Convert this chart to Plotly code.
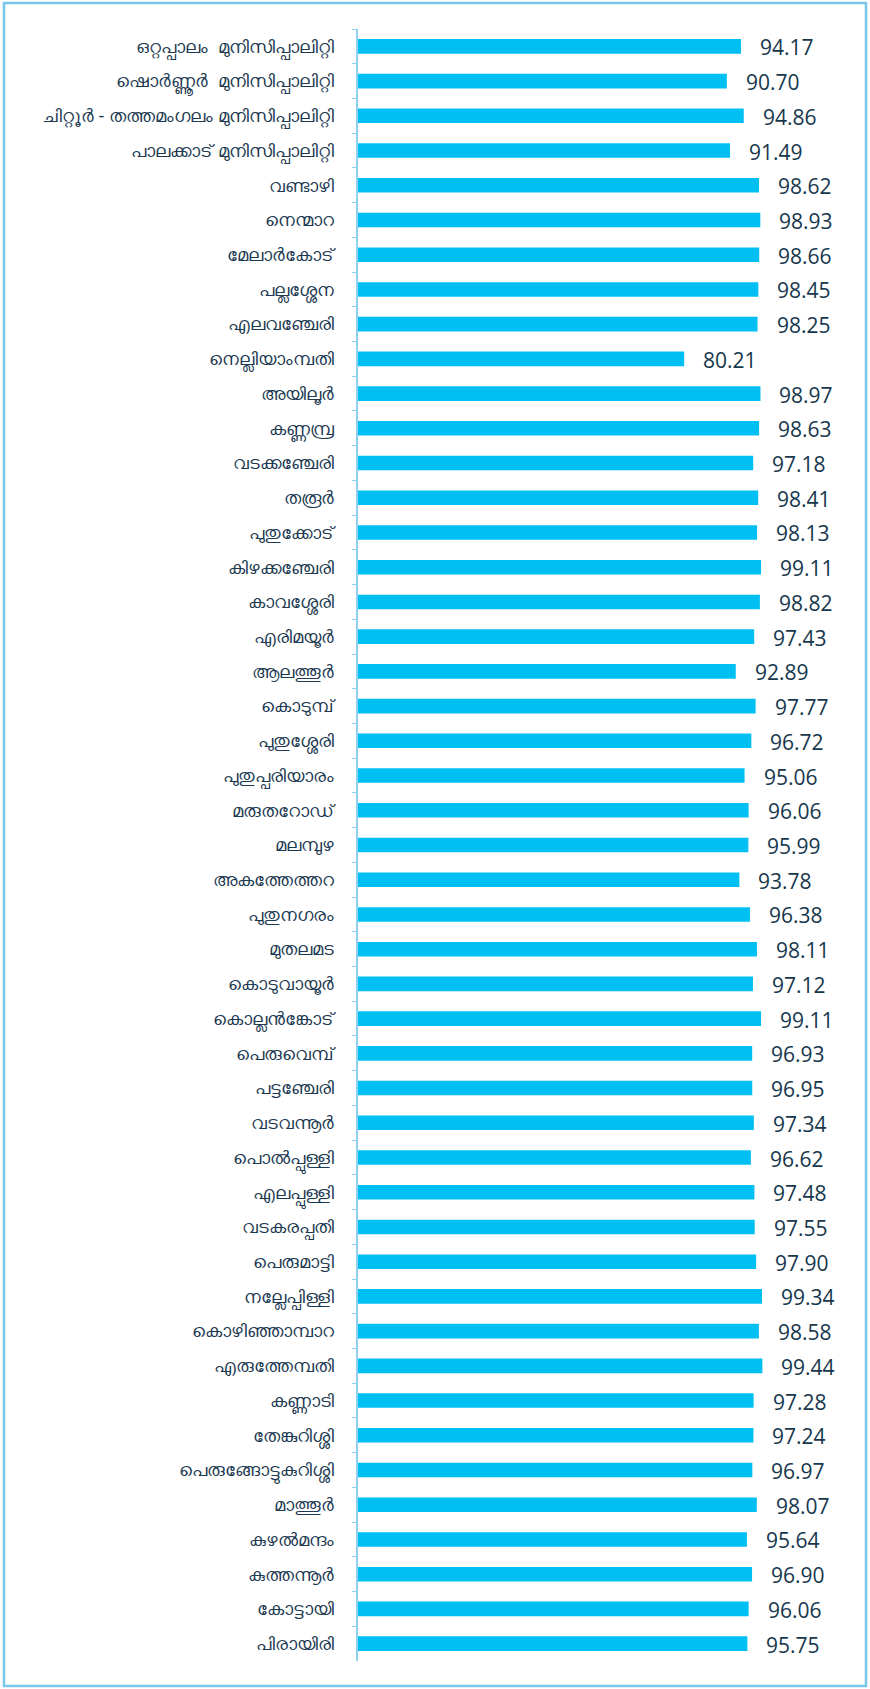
import plotly.graph_objects as go

# Panchayat / municipality names (top to bottom) and their values
names = [
    "ഒറ്റപ്പാലം  മുനിസിപ്പാലിറ്റി", "ഷൊർണ്ണൂർ  മുനിസിപ്പാലിറ്റി",
    "ചിറ്റൂർ - തത്തമംഗലം മുനിസിപ്പാലിറ്റി", "പാലക്കാട് മുനിസിപ്പാലിറ്റി",
    "വണ്ടാഴി", "നെന്മാറ", "മേലാർകോട്", "പല്ലശ്ശേന", "എലവഞ്ചേരി",
    "നെല്ലിയാംമ്പതി", "അയിലൂർ", "കണ്ണമ്പ്ര", "വടക്കഞ്ചേരി", "തരൂർ",
    "പുതുക്കോട്", "കിഴക്കഞ്ചേരി", "കാവശ്ശേരി", "എരിമയൂർ", "ആലത്തൂർ",
    "കൊടുമ്പ്", "പുതുശ്ശേരി", "പുതുപ്പരിയാരം", "മരുതറോഡ്", "മലമ്പുഴ",
    "അകത്തേത്തറ", "പുതുനഗരം", "മുതലമട", "കൊടുവായൂർ", "കൊല്ലൻങ്കോട്",
    "പെരുവെമ്പ്", "പട്ടഞ്ചേരി", "വടവന്നൂർ", "പൊൽപ്പുള്ളി", "എലപ്പുള്ളി",
    "വടകരപ്പതി", "പെരുമാട്ടി", "നല്ലേപ്പിള്ളി", "കൊഴിഞ്ഞാമ്പാറ",
    "എരുത്തേമ്പതി", "കണ്ണാടി", "തേങ്കുറിശ്ശി", "പെരുങ്ങോട്ടുകുറിശ്ശി",
    "മാത്തൂർ", "കുഴൽമന്ദം", "കുത്തന്നൂർ", "കോട്ടായി", "പിരായിരി",
]
values = [
    94.17, 90.70, 94.86, 91.49, 98.62, 98.93, 98.66, 98.45, 98.25,
    80.21, 98.97, 98.63, 97.18, 98.41, 98.13, 99.11, 98.82, 97.43, 92.89,
    97.77, 96.72, 95.06, 96.06, 95.99, 93.78, 96.38, 98.11, 97.12, 99.11,
    96.93, 96.95, 97.34, 96.62, 97.48, 97.55, 97.90, 99.34, 98.58,
    99.44, 97.28, 97.24, 96.97, 98.07, 95.64, 96.90, 96.06, 95.75,
]

W, H = 870, 1689
ml, mr, mt, mb = 358, 24, 29, 28
pw = W - ml - mr
ph = H - mt - mb

fig = go.Figure(go.Bar(
    x=values, y=names, orientation="h",
    marker=dict(color="#00BFF3", line=dict(width=0)),
    hoverinfo="x+y",
))

# value labels right of the bars
for n, v in zip(names, values):
    fig.add_annotation(x=v, y=n, text=f"{v:.2f}", showarrow=False,
                       xanchor="left", xshift=17, yshift=-1,
                       font=dict(family="Open Sans", size=21, color="#17374d"))

# light blue frame round the whole picture
fig.add_shape(type="rect", xref="paper", yref="paper",
              x0=(4 - ml) / pw, x1=(W - 4 - ml) / pw,
              y0=(mt + ph - (H - 3)) / ph, y1=(mt + ph - 3) / ph,
              line=dict(color="#79c6ea", width=2.5))

fig.update_layout(
    width=W, height=H,
    margin=dict(l=ml, r=mr, t=mt, b=mb),
    plot_bgcolor="white", paper_bgcolor="white",
    bargap=0.58, showlegend=False,
    font=dict(family="Noto Sans", color="#1d3a52"),
)
fig.update_xaxes(range=[0, 120], visible=False, fixedrange=True)
fig.update_yaxes(autorange="reversed", showline=True, linecolor="#8fd0f0",
                 linewidth=1.5, ticks="outside", tickson="boundaries",
                 ticklen=4, tickcolor="#8fd0f0", ticklabelstandoff=19,
                 tickfont=dict(size=18, color="#1d3a52"), showgrid=False,
                 fixedrange=True)

# the page has a default 8px body margin; drop it so the figure sits at 0,0
fig.write_html("out.html", config={"displayModeBar": False},
               post_script="document.body.style.margin='0';")
